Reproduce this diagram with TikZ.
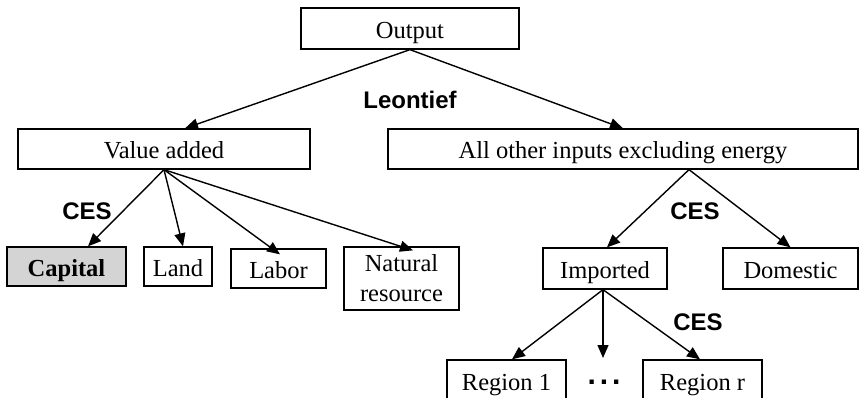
\documentclass[tikz,border=0pt]{standalone}
\usepackage{fontspec}
\setmainfont{Liberation Serif}
\setsansfont{Liberation Sans}
\usetikzlibrary{arrows.meta}
\begin{document}
\begin{tikzpicture}[x=1pt,y=-1pt,
  box/.style={draw=black,line width=1.3pt,rectangle,inner sep=0pt,
    font=\fontsize{24.5}{30}\selectfont},
  one/.style={box,text height=20pt,text depth=0pt},
  lab/.style={font=\fontsize{24}{27}\selectfont\sffamily\bfseries},
  arr/.style={line width=1.4pt,-{Triangle[length=13pt,width=11pt]}}]
\useasboundingbox (0,0) rectangle (860,398);
\node[one,minimum width=218pt,minimum height=41pt] (out) at (410,28.5) {Output};
\node[one,minimum width=292pt,minimum height=40pt] (va) at (164,149) {Value added};
\node[one,minimum width=470pt,minimum height=40pt] (all) at (623,149) {All other inputs excluding energy};
\node[one,fill=black!17,minimum width=119pt,minimum height=39pt,font=\fontsize{24.5}{30}\selectfont\bfseries] (cap) at (66.5,266.5) {Capital};
\node[one,minimum width=68pt,minimum height=39pt] (land) at (178,266.5) {Land};
\node[one,minimum width=95pt,minimum height=39pt] (labor) at (278.5,268.5) {Labor};
\node[box,align=center,minimum width=115pt,minimum height=63pt] (nat) at (401.5,278.5) {Natural\\resource};
\node[one,minimum width=124pt,minimum height=41pt] (imp) at (605,268.5) {Imported};
\node[one,minimum width=135pt,minimum height=41pt] (dom) at (790.5,268.5) {Domestic};
\node[one,minimum width=119pt,minimum height=40pt] (r1) at (506.5,380) {Region 1};
\node[one,minimum width=119pt,minimum height=40pt] (rr) at (702.5,380) {Region r};
\node[font=\fontsize{30}{30}\selectfont\sffamily\bfseries] (dots) at (604,382) {.\hspace{4pt}.\hspace{4pt}.};
\coordinate (mid) at (603,358);
\node[lab] (leo) at (410,100) {Leontief};
\node[lab] (ces1) at (87,211) {CES};
\node[lab] (ces2) at (695,211) {CES};
\node[lab] (ces3) at (698,322) {CES};
\draw[arr] (out.south) -- ([xshift=21pt]va.north);
\draw[arr] (out.south) -- (all.north);
\draw[arr] (va.south) -- ([xshift=21.5pt]cap.north);
\draw[arr] (va.south) -- ([xshift=5pt]land.north);
\draw[arr] (va.south) -- ([xshift=1.5pt,yshift=-6pt]labor.north);
\draw[arr] (va.south) -- ([xshift=11.5pt,yshift=-4pt]nat.north);
\draw[arr] ([xshift=66pt]all.south) -- ([xshift=2pt]imp.north);
\draw[arr] ([xshift=66pt]all.south) -- (dom.north);
\draw[arr] ([xshift=-2pt]imp.south) -- ([xshift=5.5pt]r1.north);
\draw[arr] ([xshift=-2pt]imp.south) -- (mid);
\draw[arr] ([xshift=-2pt]imp.south) -- ([xshift=-2.5pt]rr.north);
\end{tikzpicture}
\end{document}
